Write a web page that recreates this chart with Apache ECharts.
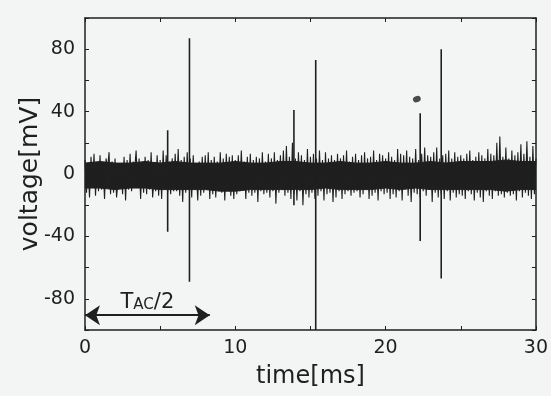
<!DOCTYPE html>
<html><head><meta charset="utf-8">
<script src="https://cdn.jsdelivr.net/npm/echarts@6/dist/echarts.min.js"></script>
<style>html,body{margin:0;padding:0;background:#f3f5f4}#c{width:551px;height:396px}</style>
</head><body><div id="c"></div>
<script>
// sample step of the recorded trace (ms)
var sampleStep = 0.1;
// background noise fringe values (mV)
var noise = [
9,-12,6,-15,11,-9,13,-14,7,-11,
12,-10,5,-16,10,3,14,-13,8,-12,
10,-15,-4,-9,6,-13,11,-17,9,-10,
13,-11,8,2,15,-9,10,-16,7,-12,
11,-13,9,-10,14,-15,-3,-11,12,-14,
9,-16,15,-10,12,-12,8,-13,10,-11,
13,-11,16,-14,9,-18,11,-12,14,-10,
10,-15,12,-9,4,-17,8,-14,11,-12,
12,-10,14,-16,9,-13,11,-15,8,-11,
14,-12,10,-17,13,-9,11,-14,12,-16,
9,-13,12,-11,15,-10,8,-16,11,-12,
13,-14,9,-12,11,-18,10,-11,14,-13,
8,-12,13,-15,10,-11,14,-19,9,-12,
12,-10,15,-14,18,-12,11,-16,20,-13,
10,-17,14,-11,12,-20,9,-13,16,-15,
11,-12,13,-16,10,-14,15,-11,9,-17,
14,-13,10,-12,12,-18,9,-15,13,-11,
10,-16,12,-13,15,-11,8,-14,11,-12,
13,-11,9,-15,12,-13,14,-10,10,-16,
11,-14,15,-12,9,-17,13,-11,12,-13,
10,-12,14,-16,11,-13,9,-15,16,-11,
13,-17,12,-10,15,-14,11,-18,10,-12,
16,-13,9,-15,13,-11,17,-14,12,-10,
11,-18,14,-12,17,-15,10,-13,12,-16,
13,-11,15,-17,10,-12,14,-15,11,-13,
12,-14,10,-16,13,-11,15,-13,9,-17,
11,-12,14,-15,12,-18,10,-11,16,-14,
13,-16,12,-11,20,-14,24,-13,11,-15,
17,-12,10,-14,15,-13,12,-17,14,-11,
19,-15,13,-12,21,-14,11,-16,18,-13,
10
];
// dense core of the noise band, one value per ms (mV)
var coreTime   = [0,1,2,3,4,5,6,7,8,9,10,11,12,13,14,15,16,17,18,19,20,21,22,23,24,25,26,27,28,29,30];
var coreTop    = [7,8,7,7,8,7,8,7,7,7,8,7,7,8,8,7,7,8,7,7,8,7,7,8,7,8,8,8,9,8,8];
var coreBottom = [-9,-9,-10,-9,-9,-10,-10,-10,-10,-11,-11,-10,-10,-10,-10,-10,-9,-10,-10,-10,-9,-10,-9,-10,-10,-10,-10,-10,-11,-10,-10];
// spikes: time (ms), positive peak and negative peak (mV)
var spikeTimes = [5.5, 6.95, 13.9, 15.35, 22.3, 23.7];
var spikeUp    = [28, 87, 41, 73, 39, 80];
var spikeDown  = [-37, -69, -20, -100, -43, -67];
// ink blot
var blotT = [22.08];
var blotV = [48];
// annotation T_AC/2 arrow
var arrowFrom = [0, -90.5];
var arrowTo = [8.3, -90.5];
var annotText = '{a|T}{b|AC}{a|/2}';
// ticks
var xTickLabels = [0, 10, 20, 30];
var yTickLabels = [-80, -40, 0, 40, 80];

var chart = echarts.init(document.getElementById('c'));
var ink = '#1f1f1f';
var font = 'DejaVu Sans';
var series = [];
function coreSeries(vals) {
  return {
    type: 'line', symbol: 'none', animation: false, silent: true,
    lineStyle: {color: ink, width: 1},
    areaStyle: {color: ink, opacity: 1, origin: 'auto'},
    data: coreTime.map(function (t, i) { return [t, vals[i]]; })
  };
}
series.push(coreSeries(coreTop));
series.push(coreSeries(coreBottom));
series.push({
  type: 'line', symbol: 'none', animation: false,
  lineStyle: {color: ink, width: 1.1},
  data: noise.map(function (v, i) { return [+(i * sampleStep).toFixed(2), v]; }),
  markLine: {
    silent: true, animation: false,
    symbol: ['arrow', 'arrow'], symbolSize: [15, 15],
    lineStyle: {color: ink, width: 2, type: 'solid', opacity: 1},
    label: {
      show: true, position: 'middle', distance: 2,
      color: ink, textBorderWidth: 0,
      formatter: annotText,
      rich: {
        a: {fontFamily: font, fontSize: 21, color: ink, textBorderWidth: 0},
        b: {fontFamily: font, fontSize: 15, color: ink, textBorderWidth: 0, padding: [5, 0, 0, 0]}
      }
    },
    data: [[{coord: arrowFrom}, {coord: arrowTo}]]
  }
});
spikeTimes.forEach(function (t, k) {
  series.push({
    type: 'line', symbol: 'none', animation: false,
    lineStyle: {color: ink, width: 1.6},
    data: [[t, 0], [t, spikeUp[k]], [t, spikeDown[k]], [t, 0]]
  });
});
series.push({
  type: 'scatter', symbol: 'circle', symbolSize: [8, 6], symbolRotate: 20,
  itemStyle: {color: ink}, animation: false,
  data: blotT.map(function (t, i) { return [t, blotV[i]]; })
});

function isIn(arr, v) { return arr.indexOf(v) >= 0; }
function axisCommon(extra) {
  var base = {
    axisLine: {onZero: false, lineStyle: {color: ink, width: 1.5}},
    axisTick: {inside: true, length: 4, lineStyle: {color: ink}},
    splitLine: {show: false}
  };
  for (var k in extra) base[k] = extra[k];
  return base;
}

chart.setOption({
  backgroundColor: '#f3f5f4',
  animation: false,
  grid: {left: 85, right: 11, top: 18, bottom: 66},
  xAxis: [axisCommon({
    type: 'value', min: 0, max: 30, interval: 5, position: 'bottom',
    name: 'time[ms]', nameLocation: 'middle', nameGap: 35, nameMoveOverlap: false,
    nameTextStyle: {fontFamily: font, fontSize: 24, color: ink},
    axisLabel: {margin: 9, fontFamily: font, fontSize: 19, color: ink,
      formatter: function (v) { return isIn(xTickLabels, v) ? String(v) : ''; }}
  }), axisCommon({
    type: 'value', min: 0, max: 30, interval: 5, position: 'top',
    axisLabel: {show: false}
  })],
  yAxis: [axisCommon({
    type: 'value', min: -100, max: 100, interval: 20, position: 'left',
    name: 'voltage[mV]', nameLocation: 'middle', nameGap: 42, nameMoveOverlap: false,
    nameTextStyle: {fontFamily: font, fontSize: 25, color: ink},
    axisLabel: {margin: 10, fontFamily: font, fontSize: 19, color: ink,
      formatter: function (v) { return isIn(yTickLabels, v) ? String(v) : ''; }}
  }), axisCommon({
    type: 'value', min: -100, max: 100, interval: 20, position: 'right',
    axisLabel: {show: false}
  })],
  series: series
});
</script>
</body></html>
